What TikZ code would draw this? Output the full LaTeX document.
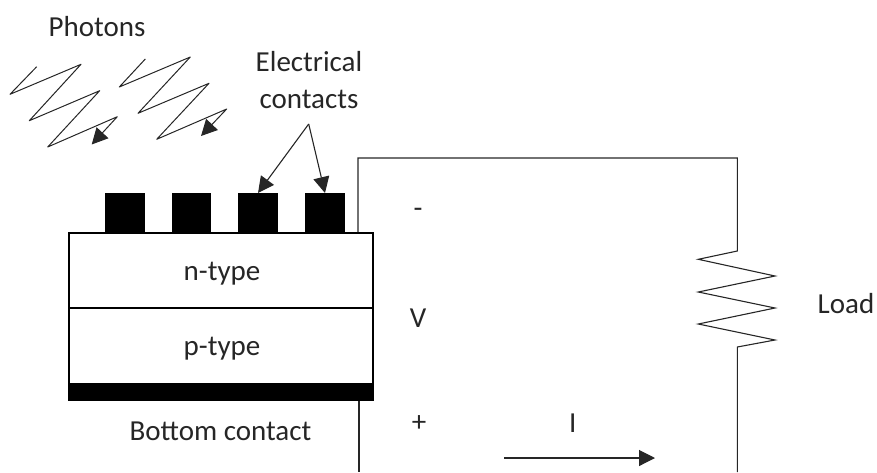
\documentclass[tikz,border=0pt]{standalone}
\usepackage{fontspec}
\setmainfont{Carlito}
\usetikzlibrary{arrows.meta}
\definecolor{inkc}{HTML}{262626}
\tikzset{
  x=1pt,y=-1pt,
  label text/.style={font=\fontsize{29}{37}\selectfont,text=inkc,inner sep=0pt,align=center},
  contact/.style={fill=black,minimum width=39.5pt,minimum height=39pt,inner sep=0pt,outer sep=0pt},
  layer/.style={draw=black,line width=2.2pt,fill=white,minimum width=304pt,minimum height=75.5pt,inner sep=0pt,outer sep=0pt},
  wire/.style={draw=inkc,line width=1.1pt,line join=miter},
  zig/.style={draw=inkc,line width=1pt,line join=round},
  tipped/.style={wire,-{Triangle[length=16pt,width=16pt]}}
}
\begin{document}
\begin{tikzpicture}
\useasboundingbox (0,0) rectangle (877,472);
% wires
\coordinate (wa) at (358,158);
\coordinate (wb) at (737.3,158);
\coordinate (wc) at (737.3,251);
\coordinate (wd) at (737.3,347);
\coordinate (we) at (737.3,472);
\coordinate (wf) at (359,472);
% contacts
\node[contact] (c1) at (125,212.5) {};
\node[contact] (c2) at (191.5,212.5) {};
\node[contact] (c3) at (258,212.5) {};
\node[contact] (c4) at (325,212.5) {};
% layers
\node[layer] (n) at (221,270.5) {};
\node[layer] (p) at (221,346) {};
\node[fill=black,minimum width=306.4pt,minimum height=17.4pt,inner sep=0pt,outer sep=0pt] (bc) at (220.9,392) {};
\node[label text] (nt) at (222,274) {n-type};
\node[label text] (pt) at (222,349) {p-type};
\coordinate (wt) at (358,232);
\coordinate (wl) at (359,400.5);
\draw[wire] (wt) -- (wa) -- (wb) -- (wc) -- (698.3,259.3) -- (775,276) -- (698.3,292) -- (775,308) -- (698.3,324) -- (775,340) -- (wd) -- (we);
\draw[wire] (wl) -- (wf);
% labels
\node[label text] (ph) at (97,27) {Photons};
\node[label text] (ec) at (309,80) {Electrical\\contacts};
\node[label text] (bt) at (220.5,431) {Bottom contact};
\node[label text] (mi) at (418,213) {-};
\node[label text] (vv) at (418,318) {V};
\node[label text] (pl) at (419,424) {+};
\node[label text] (ii) at (572.7,423) {I};
\node[label text] (ld) at (846,304) {Load};
% contact arrows
\coordinate (ap) at (308.7,124);
\draw[tipped] (ap) -- (c3.north);
\draw[tipped] (ap) -- (c4.north);
% current arrow
\coordinate (ia) at (504,458);
\coordinate (ib) at (655,458);
\draw[tipped] (ia) -- (ib);
% photons
\coordinate (p1) at (36.7,66.7);
\coordinate (p1e) at (91.7,144.5);
\draw[zig,-{Triangle[length=16pt,width=16pt]}] (p1) -- (10,94.3) -- (81,64.3) -- (29.3,120.7) -- (99.7,90.7) -- (47.7,147) -- (117.3,116.7) -- (p1e);
\coordinate (p2) at (145.3,59);
\coordinate (p2e) at (201,136);
\draw[zig,-{Triangle[length=16pt,width=16pt]}] (p2) -- (119.3,87) -- (190.3,57) -- (138,113.3) -- (209,83.3) -- (156.7,139.3) -- (226.7,109) -- (p2e);
\end{tikzpicture}
\end{document}
